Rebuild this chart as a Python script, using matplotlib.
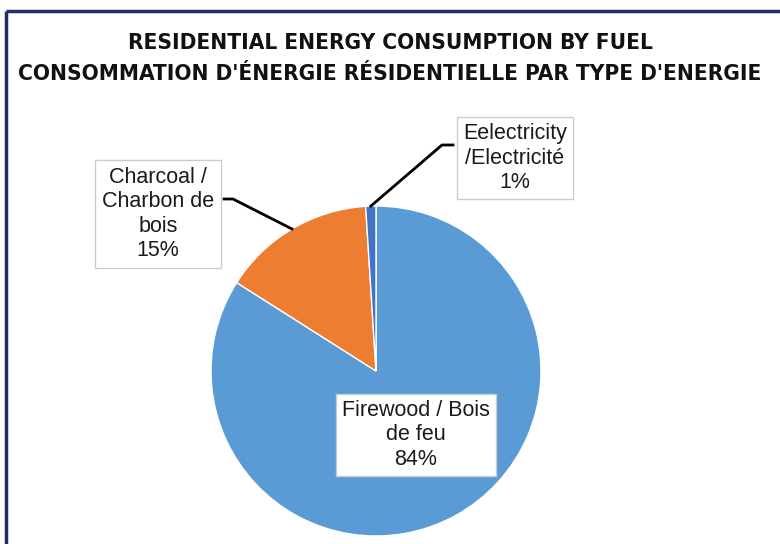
import numpy as np
import matplotlib
matplotlib.use("Agg")
import matplotlib.pyplot as plt

labels = ["Firewood / Bois\nde feu", "Charcoal /\nCharbon de\nbois", "Eelectricity\n/Electricit\u00e9"]
shares = [84, 15, 1]
colors = ["#5B9BD5", "#ED7D31", "#4472C4"]
title = ("RESIDENTIAL ENERGY CONSUMPTION BY FUEL\n"
         "CONSOMMATION D'\u00c9NERGIE R\u00c9SIDENTIELLE PAR TYPE D'ENERGIE")

W, H = 780, 544
fig = plt.figure(figsize=(W / 100, H / 100), dpi=100)
ax = fig.add_axes([0, 0, 1, 1])

cx, cy, r = 376, H - 371, 165
wedges, _ = ax.pie(shares, colors=colors, startangle=90, counterclock=False,
                   center=(cx, cy), radius=r, frame=True,
                   wedgeprops=dict(edgecolor="white", linewidth=1))
ax.set_xlim(0, W)
ax.set_ylim(0, H)
ax.set_aspect("equal")
ax.axis("off")

# frame (top and left edges only, like the screenshot)
ax.plot([6, W], [H - 11, H - 11], color="#1F2F6B", lw=2.5, solid_capstyle="butt")
ax.plot([6, 6], [H - 11, 0], color="#1F2F6B", lw=2.5, solid_capstyle="butt")

fig.text(0.5, 1 - 58.5 / H, title, ha="center", va="center", fontsize=16.2,
         fontweight="bold", fontstretch="condensed", family="DejaVu Sans",
         linespacing=1.68, color="#111111")

# label boxes: (center x, center y) in pixels, leader (box edge x, knee x, knee y)
boxes = [((416, 435), None), ((158, 214), (224, 233, 199)), ((515, 158), (453, 442, 145))]
tot = sum(shares)
for w, lab, s, (pos, lead) in zip(wedges, labels, shares, boxes):
    txt = f"{lab}\n{round(100 * s / tot)}%"
    bx, by = pos
    ax.text(bx, H - by, txt, ha="center", va="center", fontsize=15.5,
            family="Liberation Sans", color="#1a1a1a", linespacing=1.22,
            bbox=dict(boxstyle="square,pad=0.3", fc="white", ec="#cccccc", lw=1))
    if lead is not None:
        mid = np.deg2rad((w.theta1 + w.theta2) / 2)
        ex, ey = cx + r * np.cos(mid), cy + r * np.sin(mid)
        edge_x, knee_x, knee_y = lead
        ax.plot([edge_x, knee_x, ex], [H - knee_y, H - knee_y, ey], color="black", lw=2)

fig.savefig("out.png", dpi=100)
